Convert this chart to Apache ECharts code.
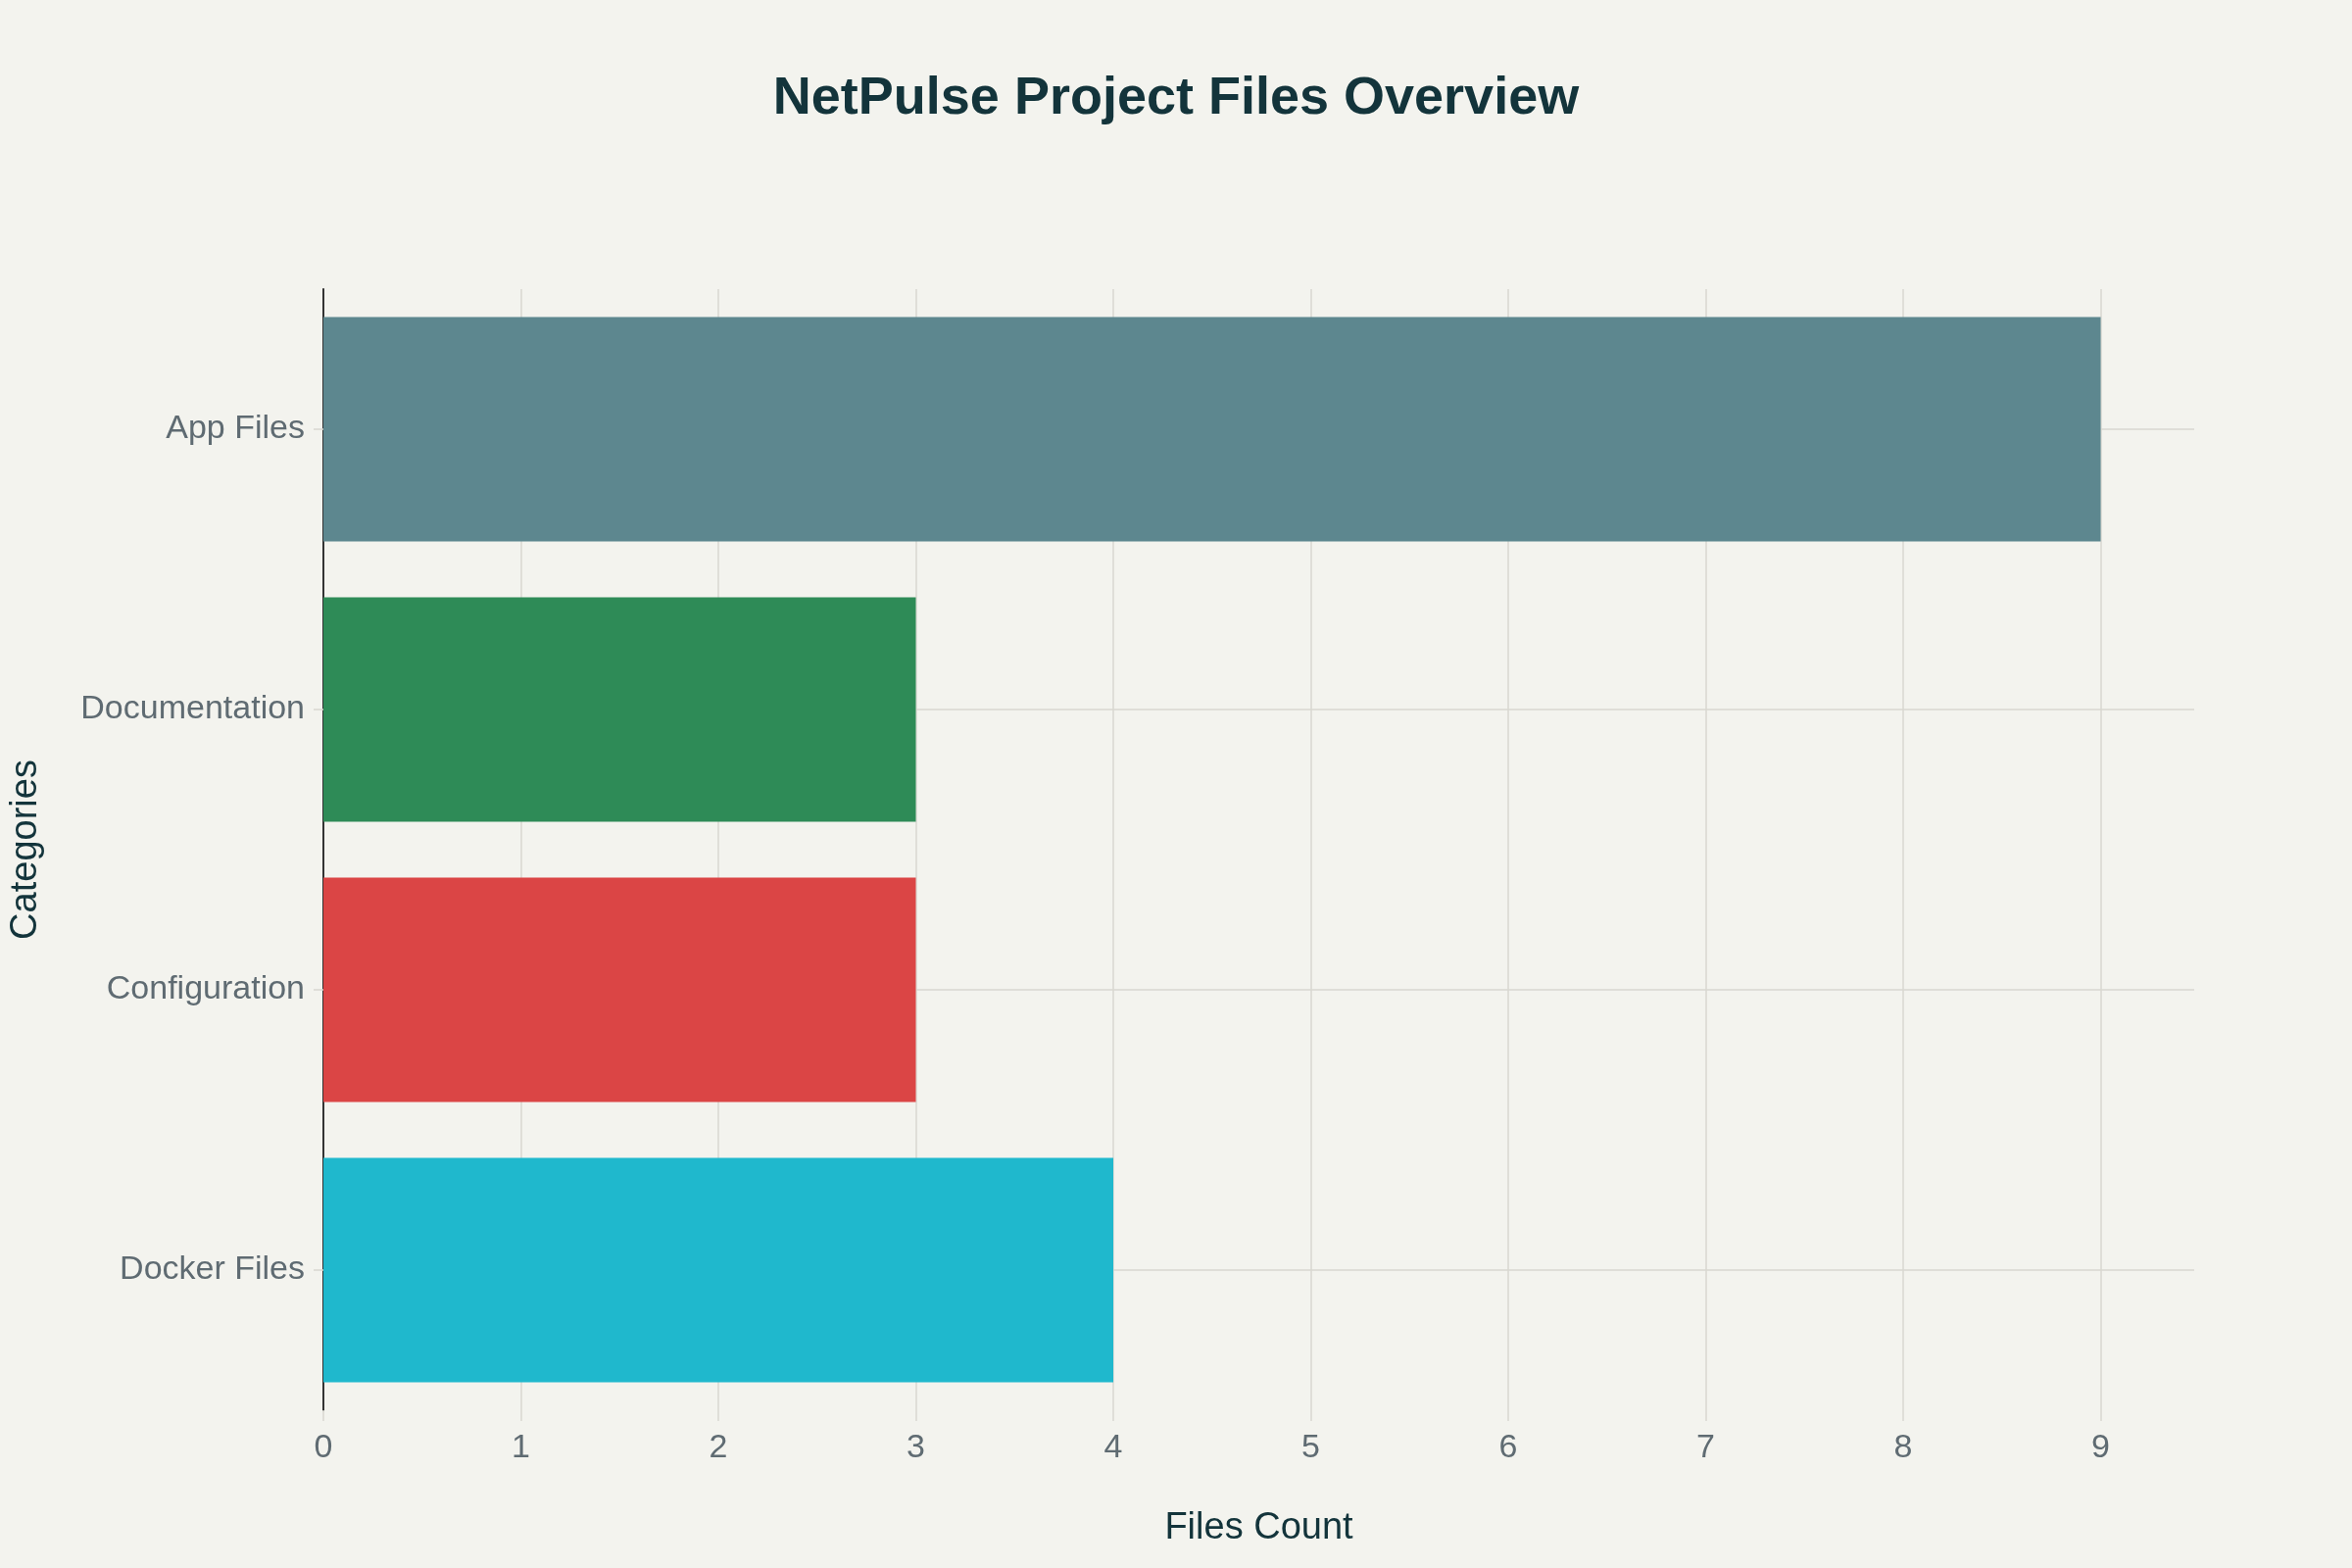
<!DOCTYPE html>
<html>
<head>
<meta charset="utf-8">
<script src="https://cdn.jsdelivr.net/npm/echarts@6/dist/echarts.min.js"></script>
<style>
  html, body { margin: 0; padding: 0; background: #f3f3ee; }
  #chart { width: 2400px; height: 1600px; }
</style>
</head>
<body>
<div id="chart"></div>
<script>
// bottom to top, like the y axis reads
const categories = ["Docker Files", "Configuration", "Documentation", "App Files"];
const fileCounts = [4, 3, 3, 9];
const barColors = ["#1FB8CD", "#DB4545", "#2E8B57", "#5D878F"];
const xTicks = [0, 1, 2, 3, 4, 5, 6, 7, 8, 9];

const gridColor = "#d9d7d1";
const labelColor = "#5f6b72";
const darkText = "#13343b";
const fontFam = "'Liberation Sans', Arial, sans-serif";

let chart = echarts.init(document.getElementById("chart"));

// split line colours: last one (at the padded max) left invisible
let splitColors = xTicks.map(() => gridColor);
splitColors.push("rgba(0,0,0,0)");

chart.setOption({
  backgroundColor: "#f3f3ee",
  animation: false,
  title: {
    text: "NetPulse Project Files Overview",
    left: "center",
    top: 69,
    textStyle: {
      color: darkText,
      fontSize: 54,
      fontWeight: "bold",
      fontFamily: fontFam
    }
  },
  grid: {
    left: 328,
    right: 161,
    top: 295,
    bottom: 161
  },
  xAxis: {
    type: "value",
    min: 0,
    max: 9 / 0.95,
    interval: 1,
    name: "Files Count",
    nameLocation: "middle",
    nameGap: 102,
    nameTextStyle: { color: darkText, fontSize: 38, fontFamily: fontFam },
    axisLine: { show: false },
    axisTick: {
      show: true,
      length: 11,
      customValues: xTicks,
      lineStyle: { color: gridColor, width: 1.5 }
    },
    axisLabel: {
      customValues: xTicks,
      margin: 22,
      color: labelColor,
      fontSize: 34,
      fontFamily: fontFam,
      formatter: v => Number.isInteger(v) ? String(v) : ""
    },
    splitLine: { show: true, lineStyle: { color: splitColors, width: 1.5 } }
  },
  yAxis: {
    type: "category",
    data: categories,
    name: "Categories",
    nameLocation: "middle",
    nameGap: 284,
    nameTextStyle: { color: darkText, fontSize: 38, fontFamily: fontFam },
    axisLine: { show: true, lineStyle: { color: "#333333", width: 2 } },
    axisTick: {
      show: true,
      alignWithLabel: true,
      length: 10,
      lineStyle: { color: gridColor, width: 1.5 }
    },
    axisLabel: {
      margin: 19,
      color: labelColor,
      fontSize: 34,
      fontFamily: fontFam
    },
    splitLine: { show: false }
  },
  series: [
    {
      // carries the horizontal grid lines at category centres, behind the bars
      type: "line",
      z: 1,
      data: [],
      markLine: {
        silent: true,
        z: 1,
        symbol: "none",
        label: { show: false },
        lineStyle: { color: gridColor, width: 1.5, type: "solid" },
        data: categories.map(c => ({ yAxis: c }))
      }
    },
    {
      type: "bar",
      z: 3,
      barCategoryGap: "20%",
      data: fileCounts.map((v, i) => ({
        value: v,
        itemStyle: { color: barColors[i] }
      }))
    }
  ]
});
</script>
</body>
</html>
